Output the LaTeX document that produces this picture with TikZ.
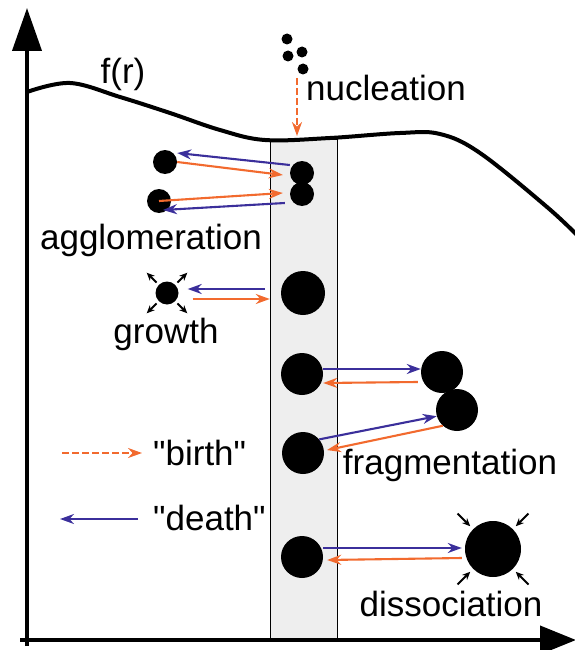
\documentclass[tikz,border=0pt]{standalone}
\usepackage{fontspec}
\setmainfont{Liberation Sans}[Ligatures=TeXOff]
\usetikzlibrary{arrows.meta}
\definecolor{birthorange}{HTML}{F26A2E}
\definecolor{deathblue}{HTML}{3B2F9B}
\definecolor{stripgray}{HTML}{EEEEEE}

\begin{document}
\begin{tikzpicture}[
  x=1pt, y=-1pt,
  ball/.style   = {circle, fill=black, draw=none, inner sep=0pt},
  birth/.style  = {-{Stealth[length=14pt,width=10pt]}, draw=birthorange,
                   line width=2.1pt},
  death/.style  = {-{Stealth[length=14pt,width=10pt]}, draw=deathblue,
                   line width=2.1pt},
  dashbirth/.style = {birth, dash pattern=on 7pt off 3pt},
  spike/.style  = {-{Stealth[length=8pt,width=7pt]}, line width=1.8pt},
  axis/.style   = {line width=4pt, draw=black},
  fcurve/.style = {line width=4pt, draw=black},
  lab/.style    = {font=\fontsize{35}{38}\selectfont, inner sep=1pt},
]
\useasboundingbox (0,0) rectangle (575,650);
% size window
\draw[fill=stripgray, line width=1pt] (270,139) rectangle (337,640);
% f(r)
\draw[fcurve] plot[smooth, tension=0.6] coordinates {(27,92) (70,83) (120,97)
  (170,113) (220,130) (265,140) (330,138) (400,133) (440,134) (480,153)
  (547,207) (580,238)};
\node[lab, anchor=base] (flab) at (123,84) {f(r)};
% axes
\coordinate (ybot) at (27,646);
\coordinate (ytop) at (27,8);
\coordinate (xleft) at (20,640);
\coordinate (xright) at (576,640);
\draw[axis, -{Triangle[length=43pt,width=29pt]}] (ybot) -- (ytop);
\draw[axis, -{Triangle[length=36pt,width=28pt]}] (xleft) -- (xright);
% nucleation
\foreach \p [count=\i] in {(287,39),(288,56),(302,52),(303,69)}
  \node[ball, minimum size=11pt] (n\i) at \p {};
\coordinate (nucstart) at (297,78);
\coordinate (dip) at (297,136);
\draw[dashbirth] (nucstart) -- (dip);
\node[lab, anchor=base] (nuclab) at (386,101) {nucleation};
% agglomeration
\node[ball, minimum size=24pt] (ag1) at (165,162) {};
\node[ball, minimum size=24pt] (ag2) at (159,201) {};
\node[ball, minimum size=24pt] (ap1) at (302,173) {};
\node[ball, minimum size=24pt] (ap2) at (302,194) {};
\draw[death] ([yshift=8]ap1.west) -- ([yshift=9]ag1.east);
\draw[birth] (ag1.east) -- ([xshift=-7,yshift=-2]ap1.west);
\draw[birth] (ag2.center) -- ([xshift=-7,yshift=1]ap2.west);
\draw[death] ([xshift=-5,yshift=-9]ap2.west) -- ([xshift=4,yshift=-9]ag2.center);
\node[lab, anchor=base] (aglab) at (151,249) {agglomeration};
% growth
\node[ball, minimum size=23pt] (gr) at (167,293) {};
\node[ball, minimum size=44pt] (gp) at (303,293) {};
\draw[death] ([xshift=-16,yshift=4]gp.west) -- ([xshift=9,yshift=4]gr.east);
\draw[birth] ([xshift=14,yshift=-6]gr.east) -- ([xshift=-11,yshift=-6]gp.west);
\foreach \a in {45,135,225,315}
  \draw[spike] ([shift={(\a:3pt)}]gr.\a) -- ([shift={(\a:17pt)}]gr.\a);
\node[lab, anchor=base] (grlab) at (166,343) {growth};
% fragmentation
\node[ball, minimum size=42pt] (fp1) at (302,374) {};
\node[ball, minimum size=42pt] (fp2) at (303,453) {};
\node[ball, minimum size=42pt] (fr1) at (442,372) {};
\node[ball, minimum size=42pt] (fr2) at (457,410) {};
\draw[death] ([yshift=5]fp1.east) -- ([yshift=3]fr1.west);
\draw[birth] ([xshift=-3,yshift=-10]fr1.west) -- ([yshift=-9]fp1.east);
\draw[death] (fp2.40) -- (fr2.197);
\draw[birth] (fr2.228) -- ([xshift=3]fp2.8);
\node[lab, anchor=base] (frlab) at (450,474) {fragmentation};
% legend
\node[lab, anchor=base west] (birthlab) at (152,465) {"birth"};
\node[lab, anchor=base west] (deathlab) at (152,530) {"death"};
\coordinate (birthtail) at (62,453);
\coordinate (birthhead) at (142,453);
\coordinate (deathtail) at (138,519);
\coordinate (deathhead) at (60,519);
\draw[dashbirth] (birthtail) -- (birthhead);
\draw[death] (deathtail) -- (deathhead);
% dissociation
\node[ball, minimum size=42pt] (dp) at (302,557) {};
\node[ball, minimum size=56pt] (db) at (493,549) {};
\draw[death] ([yshift=9]dp.east) -- ([xshift=-3,yshift=1]db.west);
\draw[birth] ([xshift=-3,yshift=-9]db.west) -- ([xshift=4,yshift=-3]dp.east);
\foreach \a in {45,135,225,315}
  \draw[spike] ([shift={(\a:22pt)}]db.\a) -- ([shift={(\a:4pt)}]db.\a);
\node[lab, anchor=base] (dslab) at (451,616) {dissociation};
\end{tikzpicture}
\end{document}
